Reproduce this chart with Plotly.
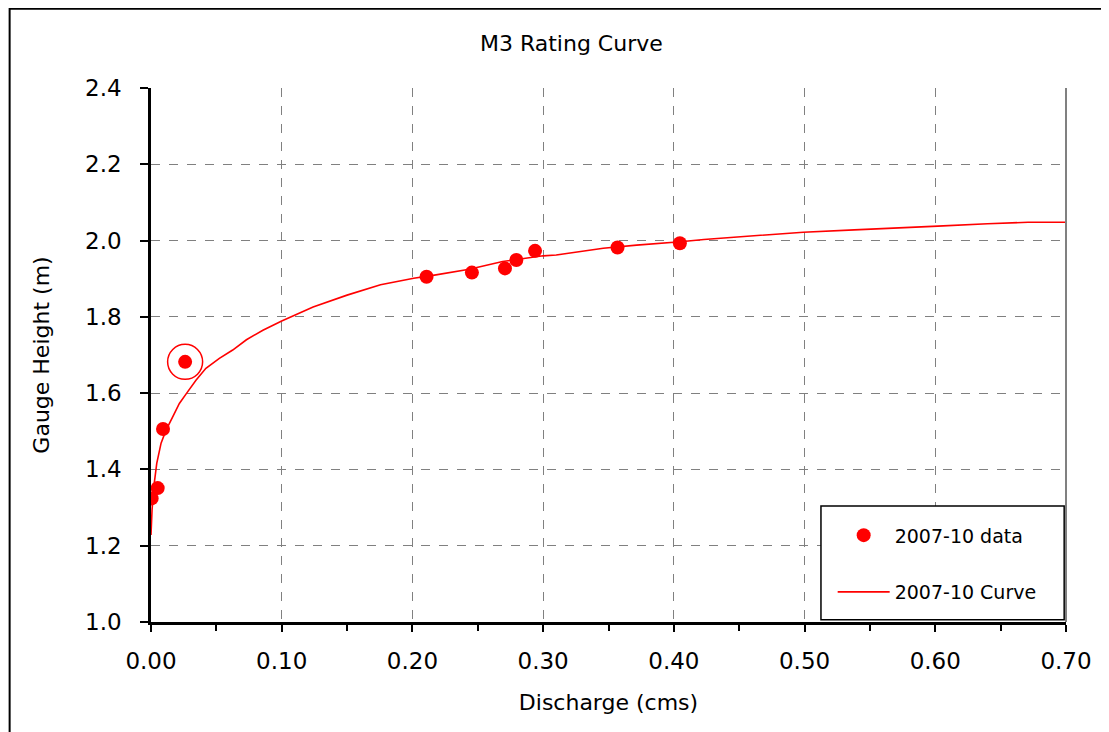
import plotly.graph_objects as go

# measured discharge / gauge height pairs (2007-10)
q_data = [0.0005, 0.0051, 0.0092, 0.0261, 0.2108, 0.2455, 0.2708, 0.2795,
          0.2938, 0.3569, 0.4046]
h_data = [1.324, 1.351, 1.506, 1.682, 1.905, 1.916, 1.927, 1.949,
          1.973, 1.982, 1.993]
flagged = 3  # circled point

# rating curve
q_curve = [0.0, 0.0008, 0.0025, 0.0044, 0.0077, 0.0115, 0.0166, 0.0217,
           0.0273, 0.0344, 0.042, 0.0523, 0.0625, 0.073, 0.0856, 0.100,
           0.124, 0.150, 0.1756, 0.201, 0.218, 0.2435, 0.269, 0.300, 0.310,
           0.346, 0.3715, 0.3836, 0.405, 0.423, 0.461, 0.499, 0.538, 0.576,
           0.602, 0.640, 0.671, 0.700]
h_curve = [1.228, 1.294, 1.364, 1.416, 1.469, 1.503, 1.538, 1.573,
           1.600, 1.634, 1.665, 1.691, 1.713, 1.740, 1.765, 1.789,
           1.826, 1.857, 1.884, 1.901, 1.910, 1.925, 1.945, 1.960, 1.962,
           1.980, 1.988, 1.991, 1.997, 2.003, 2.013, 2.022, 2.028, 2.033,
           2.038, 2.044, 2.048, 2.048]

font = "DejaVu Sans, Arial, sans-serif"
red = "#ff0000"
grid = "#808080"

fig = go.Figure()

fig.add_trace(go.Scatter(x=q_data, y=h_data, mode="markers", name="2007-10 data",
                         marker=dict(color=red, size=14), legendgroup="a"))
fig.add_trace(go.Scatter(x=q_curve, y=h_curve, mode="lines", name="2007-10 Curve",
                         line=dict(color=red, width=1.6), legendgroup="b"))
fig.add_trace(go.Scatter(x=[q_data[flagged]], y=[h_data[flagged]], mode="markers",
                         marker=dict(symbol="circle-open", size=35, color=red,
                                     line=dict(width=1.5, color=red)),
                         showlegend=False, hoverinfo="skip"))

fig.update_layout(
    width=1109, height=732,
    margin=dict(l=143, r=51, t=80, b=118),
    paper_bgcolor="white", plot_bgcolor="white",
    font=dict(family=font, color="black"),
    title=dict(text="M3 Rating Curve", x=0.508, xanchor="center", y=0.952,
               yanchor="middle", font=dict(size=22)),
    showlegend=True,
    legend=dict(x=0.745, xanchor="left", y=0.109, yanchor="middle",
                bgcolor="rgba(0,0,0,0)", borderwidth=0,
                font=dict(size=19), tracegroupgap=29, itemwidth=52,
                traceorder="grouped"),
    shapes=[
        # outer chart frame (only top and left edges are visible)
        dict(type="rect", xref="paper", yref="paper", x0=-0.1545, x1=1.3,
             y0=-0.5, y1=1.1485, line=dict(color="black", width=2), layer="below"),
        dict(type="line", xref="paper", yref="paper", x0=1, x1=1, y0=0, y1=1,
             line=dict(color=grid, width=2)),
        # legend box
        dict(type="rect", xref="paper", yref="paper", x0=0.7322, x1=0.998,
             y0=0.004, y1=0.2172, fillcolor="white",
             line=dict(color="black", width=1.5), layer="above"),
    ],
)

fig.update_xaxes(
    range=[0, 0.7], dtick=0.1, tick0=0, tickformat=".2f",
    showgrid=True, gridcolor=grid, griddash="dash", gridwidth=1,
    showline=True, linecolor="black", linewidth=2.5,
    ticks="outside", ticklen=7, tickwidth=1.5, tickcolor="black",
    ticklabelstandoff=10,
    minor=dict(dtick=0.05, ticks="outside", ticklen=6, tickwidth=1.5,
               tickcolor="black", showgrid=False),
    tickfont=dict(size=23), zeroline=False,
    title=dict(text="Discharge (cms)", font=dict(size=22), standoff=22),
)
fig.update_yaxes(
    range=[1.0, 2.4], dtick=0.2, tick0=1.0, tickformat=".1f",
    showgrid=True, gridcolor=grid, griddash="dash", gridwidth=1,
    showline=True, linecolor="black", linewidth=2.5,
    ticks="outside", ticklen=8, tickwidth=1.5, tickcolor="black",
    ticklabelstandoff=14,
    tickfont=dict(size=23), zeroline=False,
    title=dict(text="Gauge Height (m)", font=dict(size=22), standoff=30),
)

fig.write_html("out.html")
